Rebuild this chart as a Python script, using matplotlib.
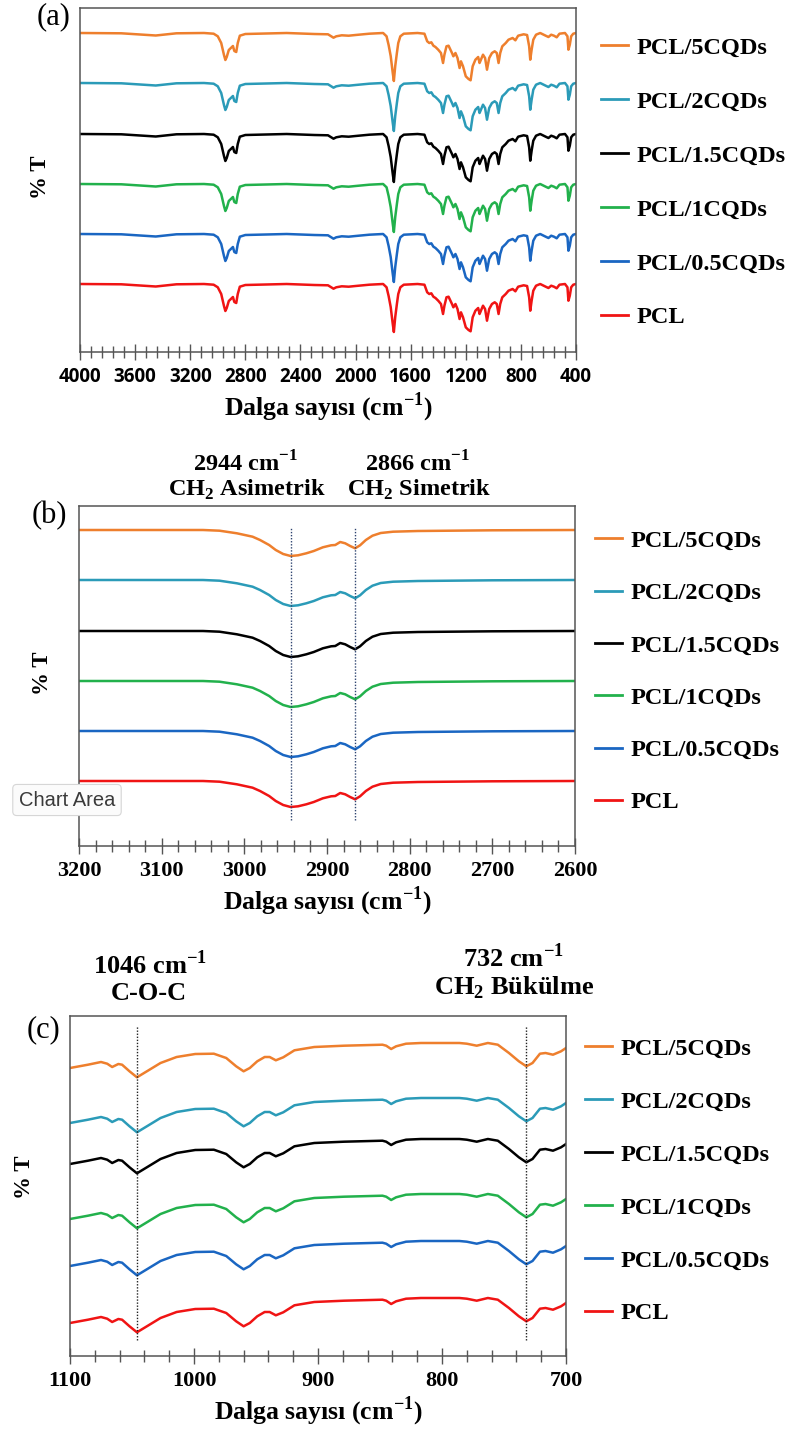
import matplotlib.pyplot as plt
from matplotlib.ticker import MultipleLocator, NullLocator

plt.rcParams['font.family'] = ['Liberation Serif', 'DejaVu Serif']
plt.rcParams['mathtext.fontset'] = 'custom'
plt.rcParams['mathtext.rm'] = 'Liberation Serif'
plt.rcParams['mathtext.bf'] = 'Liberation Serif:bold'

W, H = 811, 1430

samples = ['PCL', 'PCL/0.5CQDs', 'PCL/1CQDs', 'PCL/1.5CQDs', 'PCL/2CQDs', 'PCL/5CQDs']
colors = ['#F01414', '#1A66C2', '#22B14C', '#000000', '#2B9BB8', '#EE7F2D']

# (a) full range, band shape relative to each trace's baseline (a.u.)
wn_a = [4000, 3700, 3450, 3300, 3100, 3030, 3000, 2975, 2955, 2945, 2935, 2920,
        2905, 2890, 2880, 2866, 2855, 2840, 2800, 2500, 2300, 2200, 2160, 2140,
        2100, 2050, 2000, 1900, 1800, 1775, 1760, 1745, 1730, 1722, 1712, 1700,
        1690, 1675, 1650, 1550, 1500, 1480, 1465, 1450, 1435, 1420, 1400, 1380,
        1365, 1355, 1340, 1325, 1300, 1290, 1275, 1260, 1245, 1235, 1220, 1200,
        1180, 1165, 1150, 1130, 1110, 1100, 1090, 1075, 1060, 1046, 1030, 1010,
        990, 975, 962, 950, 935, 910, 890, 860, 840, 820, 780, 755, 740, 732,
        722, 710, 690, 660, 620, 600, 580, 560, 540, 520, 480, 462, 455, 445,
        435, 420, 400]
rel_a = [0, -0.3, -2.5, -0.3, 0, -0.7, -3.3, -10, -22, -27, -24, -17,
         -15, -13, -18, -19, -10, -2.7, -1, 0, -1, -1.3, -4.7, -3.3,
         -2.3, -2.7, -2, -0.7, 0, -3.3, -12, -23, -40, -48, -33, -20,
         -10, -3.3, -0.7, 0, -0.7, -8.3, -10, -9.3, -12.7, -14, -16.7, -20,
         -30, -21.7, -13.3, -12.7, -20, -23.3, -20, -25, -35, -28.3, -33.3, -43.3,
         -46, -47.3, -33.3, -26.7, -24, -30, -26.7, -21.7, -25, -36.7, -25, -20,
         -18.3, -20, -30, -20, -13.3, -10, -6.7, -5, -7.3, -2.7, -1.3, -2, -13.3, -26.7,
         -16.7, -6.7, -1.7, 0, -2.7, -4, -1.7, -2.7, -4.3, -0.7, 0, -3.3, -16.7, -11.7,
         -3.3, -0.7, 0]
base_a = [68, 118, 168, 218, 269, 319]

# (b) CH2 stretching region
wn_b = [3200, 3050, 3030, 3009, 2990, 2981, 2970, 2962, 2953, 2944, 2935, 2925,
        2916, 2905, 2895, 2890, 2884, 2878, 2872, 2866, 2860, 2853, 2845, 2835,
        2820, 2790, 2700, 2600]
rel_b = [0, 0, -0.7, -3.3, -6.7, -10, -15, -20, -24, -26, -25.3, -23.3,
         -21, -17.3, -15.3, -15, -12, -13.3, -16, -18.3, -15.3, -10, -5.7, -3,
         -1.7, -1, -0.3, 0]
base_b = [65, 115, 165, 215, 266, 316]
peaks_b = [2944, 2866]

# (c) fingerprint region
wn_c = [1100, 1085.5, 1075, 1070, 1066, 1061, 1058, 1052, 1046, 1038, 1027, 1014,
        999, 984, 974, 966, 960, 955, 949, 943, 939, 934, 928, 919, 903, 879,
        848, 845, 841, 837, 829, 817, 786, 780, 772, 763, 755, 746, 738, 732,
        727, 721, 716.5, 710.5, 704, 700]
rel_c = [0, 3.3, 6, 4.3, 1, 4, 3.3, -3.3, -9.3, -3.3, 5, 11,
         14, 14.3, 10, 1.7, -3.3, 0, 6.7, 11, 11, 7.7, 10.7, 17.7, 21, 22.3,
         23.3, 22.3, 19, 21.7, 24.3, 25, 25, 24.3, 22.3, 25, 23.3, 15, 6.7, 1.7,
         5, 14.3, 15, 13.3, 16.7, 20]
base_c = [33, 90, 137, 192, 233, 288]
peaks_c = [1046, 732]

fig = plt.figure(figsize=(W / 100, H / 100), dpi=100)


def px_axes(left, top, right, bottom):
    return fig.add_axes([left / W, 1 - bottom / H, (right - left) / W, (bottom - top) / H])


def fig_xy(x, y):
    return x / W, 1 - y / H


def style_axes(ax, xlim, major, minor, box, ylab_px, tick_font):
    left, top, right, bottom = box
    ax.set_xlim(*xlim)
    ax.set_ylim(0, bottom - top)
    ax.xaxis.set_major_locator(MultipleLocator(major))
    ax.xaxis.set_minor_locator(MultipleLocator(minor))
    ax.yaxis.set_major_locator(NullLocator())
    ax.tick_params(axis='x', which='major', direction='inout', length=12, width=1,
                   color='#555555', pad=5)
    ax.tick_params(axis='x', which='minor', direction='inout', length=8, width=1,
                   color='#555555')
    for lab in ax.get_xticklabels():
        lab.set_fontweight('bold')
        lab.set_family(tick_font[0])
        lab.set_fontsize(tick_font[1])
    for sp in ax.spines.values():
        sp.set_color('#555555')
        sp.set_linewidth(1.1)
    ax.set_xlabel('Dalga sayısı (cm$^{\\mathbf{-1}}$)', fontsize=18.5, fontweight='bold')
    ax.xaxis.set_label_coords(0.5, -55 / (bottom - top))
    ax.xaxis.label.set_va('center')
    ax.set_ylabel('% T', fontsize=16.5, fontweight='bold')
    ax.yaxis.set_label_coords((ylab_px[0] - left) / (right - left),
                              (bottom - ylab_px[1]) / (bottom - top))
    ax.yaxis.label.set_va('center')


def draw_traces(ax, wn, rel, bases, legend_px, pitch):
    handles = []
    for name, col, b in zip(samples, colors, bases):
        ln, = ax.plot(wn, [b + r for r in rel], color=col, lw=1.8, label=name,
                      solid_joinstyle='round')
        handles.append(ln)
    fs = 17.5
    fpx = fs * 100 / 72
    x0, yc = legend_px
    leg = ax.legend(handles[::-1], samples[::-1], loc='upper left',
                    bbox_to_anchor=fig_xy(x0, yc - 0.455 * fpx),
                    bbox_transform=fig.transFigure,
                    frameon=False, borderpad=0, borderaxespad=0,
                    handlelength=1.1, handletextpad=0.37,
                    labelspacing=(pitch - 0.91 * fpx) / fpx,
                    prop={'size': fs, 'weight': 'bold'})
    for lh in leg.get_lines():
        lh.set_linewidth(2)
    return leg


# panel (a)
box_a = (80, 8, 576, 352)
ax_a = px_axes(*box_a)
draw_traces(ax_a, wn_a, rel_a, base_a, (601, 48), 54)
style_axes(ax_a, (4000, 400), 400, 80, box_a, (41, 177), ('Open Sans', 13.5))

# panel (b)
box_b = (79, 506, 575, 846)
ax_b = px_axes(*box_b)
draw_traces(ax_b, wn_b, rel_b, base_b, (595, 541), 52.4)
ax_b.vlines(peaks_b, 26, 319, colors='#2E4470', linestyles=(0, (1, 1.2)), lw=1)
style_axes(ax_b, (3200, 2600), 100, 20, box_b, (43, 673), ('Liberation Serif', 16))

# panel (c)
box_c = (70, 1016, 566, 1356)
ax_c = px_axes(*box_c)
draw_traces(ax_c, wn_c, rel_c, base_c, (585, 1049), 53)
ax_c.vlines(peaks_c, 16, 330, colors='#222222', linestyles=(0, (1, 1.2)), lw=1)
style_axes(ax_c, (1100, 700), 100, 20, box_c, (24, 1177), ('Liberation Serif', 16))

# panel letters
for lab, (x, y) in zip(['(a)', '(b)', '(c)'], [(54, 17), (49, 516), (43, 1030)]):
    fig.text(*fig_xy(x, y), lab, fontsize=22, ha='center', va='center')

# band annotations
notes = [
    ('2944 cm$^{\\mathbf{-1}}$', 246, 464, 17.5), ('CH$_{\\mathbf{2}}$ Asimetrik', 247, 490, 17.5),
    ('2866 cm$^{\\mathbf{-1}}$', 418, 464, 17.5), ('CH$_{\\mathbf{2}}$ Simetrik', 419, 490, 17.5),
    ('1046 cm$^{\\mathbf{-1}}$', 150, 965, 19), ('C-O-C', 149, 994, 19),
    ('732 cm$^{\\mathbf{-1}}$', 513, 958, 19), ('CH$_{\\mathbf{2}}$ Bükülme', 514, 988, 19),
]
for txt, x, y, fs in notes:
    fig.text(*fig_xy(x, y), txt, fontsize=fs, fontweight='bold', ha='center', va='center')

# screenshot tooltip left in the source image
fig.text(*fig_xy(67, 800), 'Chart Area', fontsize=14.5, family='Liberation Sans',
         color='#3a3a3a', ha='center', va='center',
         bbox=dict(boxstyle='round,pad=0.3,rounding_size=0.2', fc='#fbfbfb',
                   ec='#d6d6d6', lw=0.8))

fig.savefig('out.png', dpi=100)
